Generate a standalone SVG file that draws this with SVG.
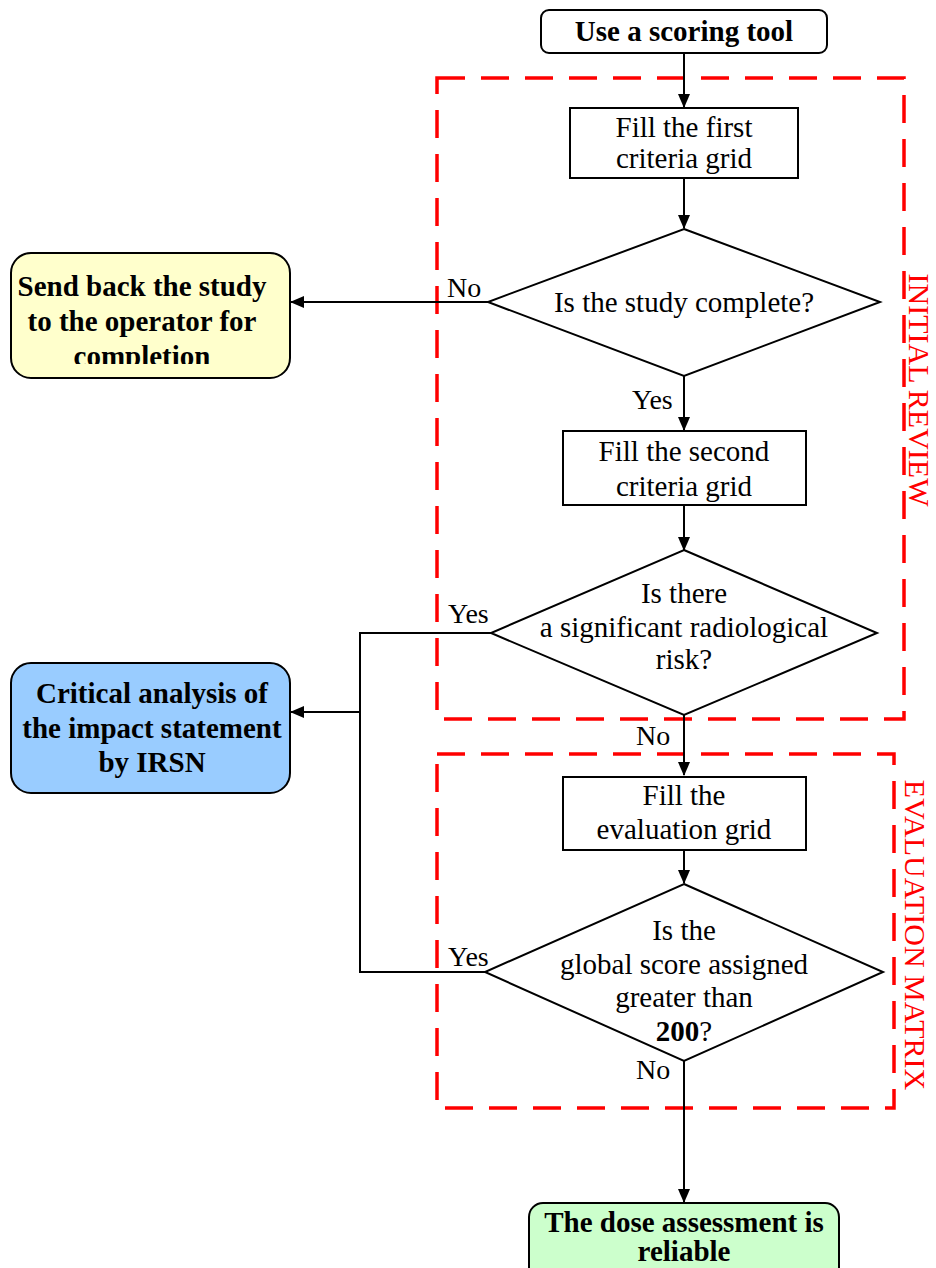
<svg xmlns="http://www.w3.org/2000/svg" width="936" height="1268" viewBox="0 0 936 1268">
<style>
text{font-family:"Liberation Serif","Times New Roman",serif;fill:#000}
.t{font-size:29px;text-anchor:middle}
.b{font-size:29px;font-weight:bold;text-anchor:middle}
.lbl{font-size:28px}
.red{font-size:30px;fill:#FF0000}
.box{fill:#fff;stroke:#000;stroke-width:2}
.line{fill:none;stroke:#000;stroke-width:2}
.dash{fill:none;stroke:#FF0000;stroke-width:3.5;stroke-dasharray:28 16}
</style>
<defs>
<marker id="ah" markerWidth="14" markerHeight="12" refX="13" refY="6" orient="auto" markerUnits="userSpaceOnUse">
<path d="M0,0 L14,6 L0,12 Z" fill="#000"/>
</marker>
<clipPath id="clipY"><rect x="0" y="240" width="300" height="124"/></clipPath>
</defs>

<g id="regions">
<rect class="dash" x="437" y="78" width="467" height="641"/>
<rect class="dash" x="437" y="754" width="457" height="354"/>
<text class="red" transform="translate(909,390) rotate(90)" text-anchor="middle">INITIAL REVIEW</text>
<text class="red" transform="translate(905,935) rotate(90)" text-anchor="middle">EVALUATION MATRIX</text>
</g>

<g id="connectors">
<line class="line" x1="684" y1="53" x2="684" y2="107" marker-end="url(#ah)"/>
<line class="line" x1="684" y1="178" x2="684" y2="228" marker-end="url(#ah)"/>
<line class="line" x1="488" y1="302" x2="291" y2="302" marker-end="url(#ah)"/>
<line class="line" x1="684" y1="376" x2="684" y2="430" marker-end="url(#ah)"/>
<line class="line" x1="684" y1="505" x2="684" y2="550" marker-end="url(#ah)"/>
<polyline class="line" points="491,633 360,633 360,972 485,972"/>
<line class="line" x1="360" y1="712" x2="291" y2="712" marker-end="url(#ah)"/>
<line class="line" x1="684" y1="715" x2="684" y2="775" marker-end="url(#ah)"/>
<line class="line" x1="684" y1="850" x2="684" y2="883" marker-end="url(#ah)"/>
<line class="line" x1="684" y1="1061" x2="684" y2="1202" marker-end="url(#ah)"/>
<text class="lbl" x="447" y="297">No</text>
<text class="lbl" x="632" y="409">Yes</text>
<text class="lbl" x="448" y="623">Yes</text>
<text class="lbl" x="636" y="745">No</text>
<text class="lbl" x="448" y="966">Yes</text>
<text class="lbl" x="636" y="1079">No</text>
</g>

<g id="start">
<rect x="541" y="10" width="286" height="43" rx="8" class="box"/>
<text class="b" x="684" y="41">Use a scoring tool</text>
</g>

<g id="fill-first">
<rect x="570" y="108" width="228" height="70" class="box"/>
<text class="t" x="684" y="137">Fill the first</text>
<text class="t" x="684" y="168">criteria grid</text>
</g>

<g id="study-complete">
<polygon points="684,229 880,302 684,376 488,302" class="box"/>
<text class="t" x="684" y="312">Is the study complete?</text>
</g>

<g id="send-back">
<rect x="11" y="253" width="279" height="125" rx="20" fill="#FFFFCC" stroke="#000" stroke-width="2"/>
<g clip-path="url(#clipY)">
<text class="b" x="142" y="296">Send back the study</text>
<text class="b" x="142" y="331">to the operator for</text>
<text class="b" x="142" y="366">completion</text>
</g>
</g>

<g id="fill-second">
<rect x="563" y="431" width="243" height="74" class="box"/>
<text class="t" x="684" y="461">Fill the second</text>
<text class="t" x="684" y="496">criteria grid</text>
</g>

<g id="radiological-risk">
<polygon points="684,550 877,633 684,715 491,633" class="box"/>
<text class="t" x="684" y="603">Is there</text>
<text class="t" x="684" y="637">a significant radiological</text>
<text class="t" x="684" y="669">risk?</text>
</g>

<g id="critical-analysis">
<rect x="11" y="663" width="279" height="130" rx="20" fill="#99CCFF" stroke="#000" stroke-width="2"/>
<text class="b" x="152" y="703">Critical analysis of</text>
<text class="b" x="152" y="738">the impact statement</text>
<text class="b" x="152" y="772">by IRSN</text>
</g>

<g id="fill-evaluation">
<rect x="563" y="777" width="243" height="73" class="box"/>
<text class="t" x="684" y="805">Fill the</text>
<text class="t" x="684" y="839">evaluation grid</text>
</g>

<g id="global-score">
<polygon points="684,884 883,972 684,1061 485,972" class="box"/>
<text class="t" x="684" y="940">Is the</text>
<text class="t" x="684" y="974">global score assigned</text>
<text class="t" x="684" y="1007">greater than</text>
<text class="t" x="684" y="1041"><tspan font-weight="bold">200</tspan>?</text>
</g>

<g id="reliable">
<rect x="529" y="1203" width="310" height="80" rx="14" fill="#CCFFCC" stroke="#000" stroke-width="2"/>
<text class="b" x="684" y="1232">The dose assessment is</text>
<text class="b" x="684" y="1261">reliable</text>
</g>
</svg>
